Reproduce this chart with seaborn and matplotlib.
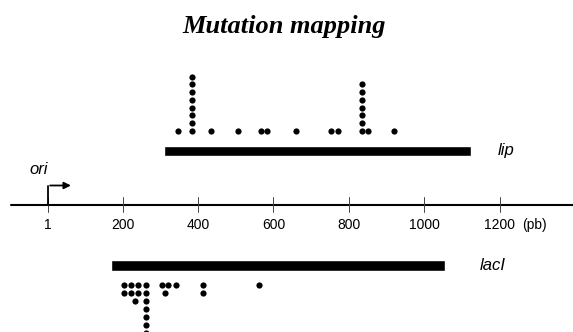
import numpy as np
import pandas as pd
import matplotlib
matplotlib.use('Agg')
import matplotlib.pyplot as plt
import seaborn as sns

sns.set_style('white')
plt.rcParams['font.family'] = ['Liberation Sans', 'DejaVu Sans']
plt.rcParams['text.color'] = 'black'

# map positions (bp)
tick_vals = [1, 200, 400, 600, 800, 1000, 1200]
tick_labels = ['1', '200', '400', '600', '800', '1000', '1200']

# genes: start, end (bp)
lip_span = (310, 1123)
lacI_span = (169, 1055)

# mutations above the map (lip): position and stack level
lip_pos = [346, 383, 383, 383, 383, 383, 383, 383, 383, 434, 507, 567, 582,
           659, 753, 770, 835, 835, 835, 835, 835, 835, 835, 852, 920]
lip_lvl = [0, 0, 1, 2, 3, 4, 5, 6, 7, 0, 0, 0, 0,
           0, 0, 0, 0, 1, 2, 3, 4, 5, 6, 0, 0]

# mutations below the map (lacI)
lacI_pos = [203, 223, 240, 262, 303, 320, 342, 412, 561,
            203, 223, 240, 262, 313, 412,
            232, 262,
            262, 262, 262, 262]
lacI_lvl = [0, 0, 0, 0, 0, 0, 0, 0, 0,
            1, 1, 1, 1, 1, 1,
            2, 2,
            3, 4, 5, 6]

# layout (vertical positions in pixel-like units, top = 0)
AXIS_Y = 205
LIP_BAR_Y, LACI_BAR_Y = 151, 265.5
LIP_DOT0, LIP_STEP = 130.7, 7.7
LACI_DOT0, LACI_STEP = 284.6, 8.1

fig = plt.figure(figsize=(5.73, 3.32), dpi=100)
ax = fig.add_axes([0, 0, 1, 1])
ax.set_xlim(-125.5, 1394.5)
ax.set_ylim(332, 0)
ax.axis('off')

df = pd.concat([
    pd.DataFrame({'pos': lip_pos, 'y': LIP_DOT0 - LIP_STEP * np.array(lip_lvl), 'gene': 'lip'}),
    pd.DataFrame({'pos': lacI_pos, 'y': LACI_DOT0 + LACI_STEP * np.array(lacI_lvl), 'gene': 'lacI'}),
])
sns.scatterplot(data=df, x='pos', y='y', color='black', s=20, linewidth=0, ax=ax, legend=False)

# gene bars
ax.barh(LIP_BAR_Y, lip_span[1] - lip_span[0], left=lip_span[0], height=10.6, color='black')
ax.barh(LACI_BAR_Y, lacI_span[1] - lacI_span[0], left=lacI_span[0], height=11, color='black')
ax.text(1196, LIP_BAR_Y, 'lip', style='italic', fontsize=12, va='center', ha='left')
ax.text(1146, LACI_BAR_Y, 'lacI', style='italic', fontsize=12, va='center', ha='left')

# ruler
ax.plot([-97, 1394.5], [AXIS_Y, AXIS_Y], color='black', lw=1.5)
for v, lab in zip(tick_vals, tick_labels):
    ax.plot([v, v], [AXIS_Y - 8.5, AXIS_Y + 6.5], color='#444444', lw=0.7)
    ax.text(v, 225, lab, ha='center', va='center', fontsize=10)
ax.text(1293, 225, '(pb)', ha='center', va='center', fontsize=10)

# ori arrow
ax.plot([1, 1], [AXIS_Y, 185.5], color='black', lw=1.3)
ax.annotate('', xy=(70, 185.5), xytext=(0, 185.5),
            arrowprops=dict(arrowstyle='-|>', color='black', lw=1.3, mutation_scale=10))
ax.text(-24, 170, 'ori', style='italic', fontsize=12, ha='center', va='center')

ax.text(627, 27, 'Mutation mapping', ha='center', va='center', fontsize=19,
        family='Liberation Serif', style='italic', weight='bold')

fig.savefig('out.png', dpi=100)
